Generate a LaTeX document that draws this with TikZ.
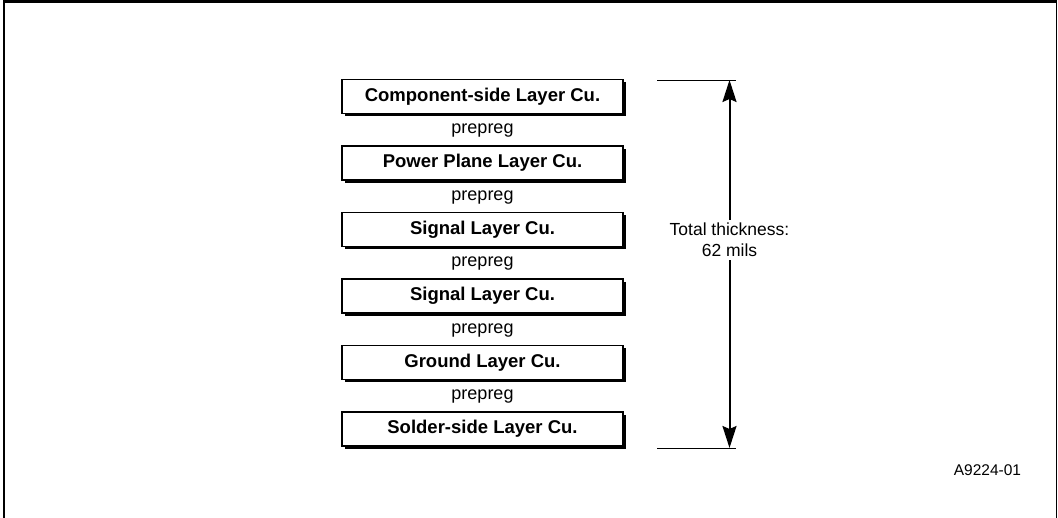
\documentclass[tikz,border=0pt]{standalone}
\usepackage{fontspec}
\setmainfont{Liberation Sans}
\usetikzlibrary{arrows.meta,shadows}
\begin{document}
\begin{tikzpicture}[x=1pt,y=-1pt,
  layerbox/.style={draw=black,line width=1.3pt,fill=white,minimum width=281pt,minimum height=34pt,
    inner sep=0pt,font=\fontsize{18.5}{20}\selectfont\bfseries,
    general shadow={fill=black,shadow xshift=2.5pt,shadow yshift=-3pt}},
  prelabel/.style={inner sep=0pt,font=\fontsize{18}{20}\selectfont},
  dimline/.style={line width=0.9pt},
  dimarrow/.style={line width=2pt,{Stealth[length=22pt,width=14pt,inset=3pt]}-{Stealth[length=22pt,width=14pt,inset=3pt]}}]
\useasboundingbox (0,0) rectangle (1058,518);
% outer frame (open at the bottom)
\draw[line width=2.4pt] (4.2,518) -- (4.2,1.5) -- (1056,1.5);
\draw[line width=1.6pt] (1056.3,0.5) -- (1056.3,518);
% layer boxes
\node[layerbox] (L1) at (482.5,96.5) {Component-side Layer Cu.};
\node[layerbox] (L2) at (482.5,163) {Power Plane Layer Cu.};
\node[layerbox] (L3) at (482.5,229.5) {Signal Layer Cu.};
\node[layerbox] (L4) at (482.5,296) {Signal Layer Cu.};
\node[layerbox] (L5) at (482.5,362.5) {Ground Layer Cu.};
\node[layerbox] (L6) at (482.5,429) {Solder-side Layer Cu.};
% prepreg labels
\node[prelabel] (P1) at (482.5,131) {prepreg};
\node[prelabel] (P2) at (482.5,197.5) {prepreg};
\node[prelabel] (P3) at (482.5,264) {prepreg};
\node[prelabel] (P4) at (482.5,330.5) {prepreg};
\node[prelabel] (P5) at (482.5,397) {prepreg};
% dimension
\coordinate (TL) at (657,80);
\coordinate (TR) at (736,80);
\coordinate (BL) at (657,448);
\coordinate (BR) at (736,448);
\coordinate (AT) at (729.5,80);
\coordinate (AB) at (729.5,448);
\draw[dimline] (TL) -- (TR);
\draw[dimline] (BL) -- (BR);
\draw[dimarrow] (AT) -- (AB);
\node[fill=white,align=center,inner sep=3pt,font=\fontsize{17.5}{21}\selectfont] (TT) at (729.5,240) {Total thickness:\\62 mils};
% figure code
\node[inner sep=0pt,font=\fontsize{15.5}{18}\selectfont] (FC) at (987.5,470.5) {A9224-01};
\end{tikzpicture}
\end{document}
